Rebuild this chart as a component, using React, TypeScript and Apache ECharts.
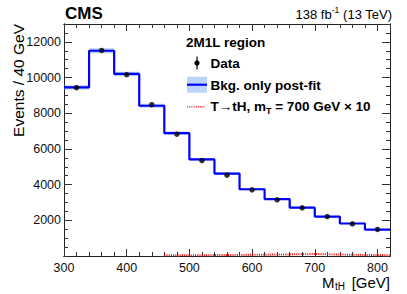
import React, { useEffect, useRef } from "react";
import * as echarts from "echarts";

const binEdges = [300, 340, 380, 420, 460, 500, 540, 580, 620, 660, 700, 740, 780, 820];
const dataValues = [9430, 11520, 10160, 8480, 6830, 5350, 4530, 3710, 3150, 2700, 2210, 1800, 1490];
const bkgValues = [9450, 11500, 10200, 8420, 6880, 5410, 4620, 3740, 3190, 2710, 2210, 1820, 1480];
const bkgUnc = [120, 140, 130, 110, 90, 75, 65, 55, 50, 45, 40, 35, 30];
const sigValues = [null, null, null, null, 40, 50, 60, 75, 90, 110, 80, 60, 45];
const xTicks = [300, 400, 500, 600, 700, 800];
const yTicks = [2000, 4000, 6000, 8000, 10000, 12000];

const FONT = "Liberation Sans, Arial, Helvetica, sans-serif";

export default function App() {
  const ref = useRef<HTMLDivElement>(null);
  useEffect(() => {
    if (!ref.current) return;
    const chart = echarts.init(ref.current, null, { renderer: "svg" });

    const stepPts: number[][] = [];
    bkgValues.forEach((v, i) => {
      stepPts.push([binEdges[i], v]);
      stepPts.push([binEdges[i + 1], v]);
    });
    const sigPts: number[][] = [];
    sigValues.forEach((v, i) => {
      if (v === null) return;
      sigPts.push([binEdges[i], v]);
      sigPts.push([binEdges[i + 1], v]);
    });
    const centers = dataValues.map((v, i) => [(binEdges[i] + binEdges[i + 1]) / 2, v]);
    const bandData = bkgValues.map((v, i) => [binEdges[i], binEdges[i + 1], v - bkgUnc[i], v + bkgUnc[i]]);

    const tickColor = "#333";
    const xMin = binEdges[0];
    const xMax = binEdges[binEdges.length - 1];
    const yMax = 13000;

    const xAxisBase = (pos: string, interval: number, len: number, labels: boolean) => ({
      type: "value",
      min: xMin,
      max: xMax,
      interval,
      position: pos,
      axisLine: { show: true, onZero: false, lineStyle: { color: "#222", width: 1 } },
      axisTick: { show: true, inside: true, length: len, lineStyle: { color: tickColor } },
      splitLine: { show: false },
      axisLabel: labels
        ? {
            show: true,
            margin: 6,
            fontFamily: FONT,
            fontSize: 12.5,
            lineHeight: 12,
            color: "#111",
            showMaxLabel: false,
            formatter: (v: number) => (xTicks.includes(v) ? String(v) : ""),
          }
        : { show: false },
    });
    const yAxisBase = (pos: string, interval: number, len: number, labels: boolean) => ({
      type: "value",
      min: 0,
      max: yMax,
      interval,
      position: pos,
      axisLine: { show: true, onZero: false, lineStyle: { color: "#222", width: 1 } },
      axisTick: { show: true, inside: true, length: len, lineStyle: { color: tickColor } },
      splitLine: { show: false },
      axisLabel: labels
        ? {
            show: true,
            margin: 3,
            fontFamily: FONT,
            fontSize: 12.5,
            color: "#111",
            showMinLabel: false,
            showMaxLabel: false,
            formatter: (v: number) => (yTicks.includes(v) ? String(v) : ""),
          }
        : { show: false },
    });

    const option: any = {
      animation: false,
      grid: { left: 64, right: 17, top: 24, bottom: 38, containLabel: false },
      xAxis: [
        xAxisBase("bottom", 100, 7, true),
        xAxisBase("bottom", 20, 4, false),
        xAxisBase("top", 100, 7, false),
        xAxisBase("top", 20, 4, false),
      ],
      yAxis: [
        yAxisBase("left", 2000, 8, true),
        yAxisBase("left", 500, 4, false),
        yAxisBase("right", 2000, 8, false),
        yAxisBase("right", 500, 4, false),
      ],
      series: [
        {
          type: "custom",
          xAxisIndex: 0,
          yAxisIndex: 0,
          data: bandData,
          renderItem: (params: any, api: any) => {
            const p1 = api.coord([api.value(0), api.value(3)]);
            const p2 = api.coord([api.value(1), api.value(2)]);
            return {
              type: "rect",
              shape: { x: p1[0], y: p1[1], width: p2[0] - p1[0], height: Math.max(p2[1] - p1[1], 1) },
              style: { fill: "rgba(120,170,240,0.55)" },
            };
          },
          z: 1,
        },
        {
          type: "line",
          xAxisIndex: 0,
          yAxisIndex: 0,
          data: stepPts,
          showSymbol: false,
          symbol: "none",
          lineStyle: { color: "#0000ff", width: 2.2 },
          z: 2,
        },
        {
          type: "line",
          xAxisIndex: 0,
          yAxisIndex: 0,
          data: sigPts,
          showSymbol: false,
          symbol: "none",
          lineStyle: { color: "#ff0000", width: 2, type: [1, 1.2] },
          z: 3,
        },
        {
          type: "scatter",
          xAxisIndex: 0,
          yAxisIndex: 0,
          data: centers,
          symbol: "circle",
          symbolSize: 5.5,
          itemStyle: { color: "#000" },
          z: 4,
        },
      ],
      graphic: [
        {
          type: "text",
          x: 65,
          y: 13,
          style: { text: "CMS", font: `bold 17px ${FONT}`, fill: "#000", verticalAlign: "middle", align: "left" },
        },
        {
          type: "text",
          x: 392,
          y: 13,
          style: {
            text: "{a|138 fb}{s|-1}{a| (13 TeV)}",
            align: "right",
            verticalAlign: "middle",
            rich: {
              a: { fontFamily: FONT, fontSize: 13, fill: "#000", color: "#000", lineHeight: 16, verticalAlign: "bottom" },
              s: { fontFamily: FONT, fontSize: 8.5, fill: "#000", color: "#000", lineHeight: 16, verticalAlign: "top" },
            },
          },
        },
        {
          type: "text",
          x: 18,
          y: 24,
          rotation: Math.PI / 2,
          style: { text: "Events / 40 GeV", font: `15.5px ${FONT}`, fill: "#000", align: "right", verticalAlign: "middle" },
        },
        {
          type: "text",
          x: 322,
          y: 282,
          style: { text: "M", font: `15px ${FONT}`, fill: "#000", align: "left", verticalAlign: "middle" },
        },
        {
          type: "text",
          x: 335,
          y: 286,
          style: { text: "tH", font: `10px ${FONT}`, fill: "#000", align: "left", verticalAlign: "middle" },
        },
        {
          type: "text",
          x: 390,
          y: 282,
          style: { text: "[GeV]", font: `15px ${FONT}`, fill: "#000", align: "right", verticalAlign: "middle" },
        },
        {
          type: "text",
          x: 186,
          y: 42,
          style: { text: "2M1L region", font: `bold 13.5px ${FONT}`, fill: "#000", verticalAlign: "middle" },
        },
        // legend: data
        { type: "line", shape: { x1: 197, y1: 56.5, x2: 197, y2: 69.5 }, style: { stroke: "#000", lineWidth: 1.2 } },
        { type: "circle", shape: { cx: 197, cy: 63, r: 2.6 }, style: { fill: "#000" } },
        {
          type: "text",
          x: 210.5,
          y: 63.3,
          style: { text: "Data", font: `bold 13.5px ${FONT}`, fill: "#000", verticalAlign: "middle" },
        },
        // legend: bkg
        { type: "rect", shape: { x: 187, y: 76.7, width: 20, height: 16 }, style: { fill: "rgba(120,170,240,0.5)" } },
        { type: "line", shape: { x1: 187, y1: 84.7, x2: 207, y2: 84.7 }, style: { stroke: "#0000ff", lineWidth: 2.2 } },
        {
          type: "text",
          x: 210.5,
          y: 85,
          style: { text: "Bkg. only post-fit", font: `bold 13.5px ${FONT}`, fill: "#000", verticalAlign: "middle" },
        },
        // legend: signal
        {
          type: "line",
          shape: { x1: 187, y1: 106.7, x2: 205, y2: 106.7 },
          style: { stroke: "#ff2020", lineWidth: 1.6, lineDash: [1, 1.2] },
        },
        {
          type: "text",
          x: 210.5,
          y: 106.5,
          style: {
            text: "{a|T\u2192tH, m}{s|T}{a| = 700 GeV \u00d7 10}",
            verticalAlign: "middle",
            rich: {
              a: { fontFamily: FONT, fontSize: 13.5, fontWeight: "bold", color: "#000", lineHeight: 18, verticalAlign: "middle" },
              s: { fontFamily: FONT, fontSize: 9, fontWeight: "bold", color: "#000", lineHeight: 18, verticalAlign: "bottom" },
            },
          },
        },
      ],
    };
    chart.setOption(option);
    return () => chart.dispose();
  }, []);
  return <div ref={ref} style={{ width: 407, height: 294, position: "absolute", left: 0, top: 0 }} />;
}
